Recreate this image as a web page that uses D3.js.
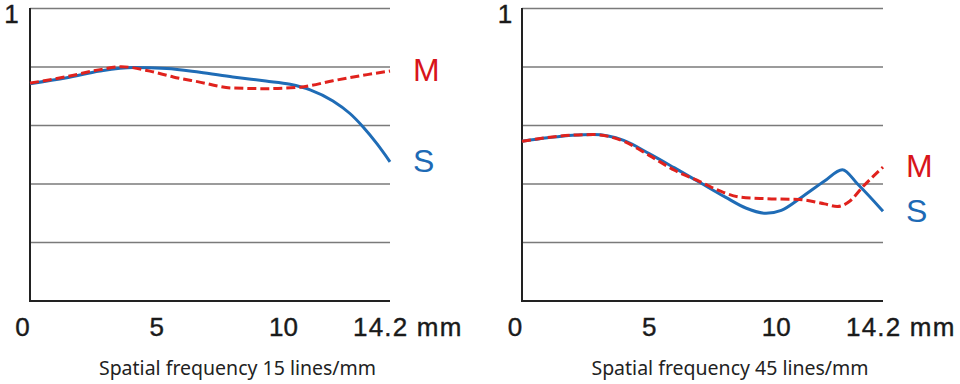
<!DOCTYPE html>
<html><head><meta charset="utf-8">
<script src="https://cdn.jsdelivr.net/npm/d3@7"></script>
<style>
html,body{margin:0;padding:0;background:#fff;}
svg{display:block;}
</style></head>
<body>
<svg id="chart" width="960" height="384"></svg>
<script>
// ---- data ----
const xTicks = [0, 5, 10, 14.2];
const xTickLabels = ["0", "5", "10", "14.2 mm"];
const yGrid = [0.2, 0.4, 0.6, 0.8, 1.0];
const yTickLabel = "1";
const seriesNames = ["M", "S"];
const subtitles = ["Spatial frequency 15 lines/mm", "Spatial frequency 45 lines/mm"];

// 15 lines/mm
const left_S_x = [0, 1.45, 2.76, 4.07, 5.39, 6.7, 8.0, 9.3, 10.26, 11.05, 11.95, 12.62, 13.14, 13.69, 14.2];
const left_S_y = [0.743, 0.763, 0.786, 0.798, 0.795, 0.782, 0.766, 0.752, 0.741, 0.722, 0.684, 0.641, 0.595, 0.537, 0.476];
const left_M_x = [0, 1.45, 2.76, 3.6, 4.73, 5.65, 6.6, 8.0, 9.3, 10.65, 11.95, 13.3, 14.2];
const left_M_y = [0.745, 0.767, 0.791, 0.801, 0.786, 0.766, 0.750, 0.728, 0.726, 0.731, 0.753, 0.774, 0.786];

// 45 lines/mm
const right_S_x = [0, 1.0, 2.0, 2.8, 4.0, 5.0, 6.0, 7.0, 8.0, 8.8, 9.6, 10.2, 11.0, 11.9, 12.6, 13.2, 14.2];
const right_S_y = [0.546, 0.558, 0.567, 0.569, 0.549, 0.504, 0.455, 0.405, 0.355, 0.318, 0.300, 0.310, 0.355, 0.410, 0.449, 0.400, 0.307];
const right_M_x = [0, 2.0, 2.8, 4.0, 5.0, 6.0, 7.0, 7.9, 8.6, 9.6, 10.9, 11.9, 12.4, 12.9, 13.4, 14.2];
const right_M_y = [0.546, 0.567, 0.569, 0.546, 0.498, 0.447, 0.408, 0.372, 0.355, 0.350, 0.347, 0.332, 0.323, 0.342, 0.390, 0.458];

const zip = (xs, ys) => xs.map((x, i) => ({x, y: ys[i]}));

const panels = [
  {x0: 30, x1: 390, S: zip(left_S_x, left_S_y), M: zip(left_M_x, left_M_y), sub: subtitles[0], subX: 237.5,
   mLabelY: 81, sLabelY: 172, zeroX: 22.5, oneX: 11.5},
  {x0: 522, x1: 883, S: zip(right_S_x, right_S_y), M: zip(right_M_x, right_M_y), sub: subtitles[1], subX: 730,
   mLabelY: 177, sLabelY: 222, zeroX: 515, oneX: 505}
];

const svg = d3.select("#chart");
const yTop = 8.5, yBot = 301;
const y = d3.scaleLinear().domain([0, 1]).range([yBot, yTop]);
const BLUE = "#1f6cb6", RED = "#e0221d";
const numFont = "'Liberation Sans', Arial, Helvetica, sans-serif";

panels.forEach(p => {
  const x = d3.scaleLinear().domain([0, 14.2]).range([p.x0, p.x1]);
  const g = svg.append("g");

  // grid
  g.selectAll("line.grid").data(yGrid).join("line")
    .attr("x1", p.x0).attr("x2", p.x1)
    .attr("y1", d => y(d)).attr("y2", d => y(d))
    .attr("stroke", "#7a7a7a").attr("stroke-width", 1.5);

  // axes
  g.append("line").attr("x1", p.x0).attr("x2", p.x0).attr("y1", y(1) - 0.5).attr("y2", y(0) + 1)
    .attr("stroke", "#222").attr("stroke-width", 2);
  g.append("line").attr("x1", p.x0 - 1).attr("x2", p.x1).attr("y1", y(0)).attr("y2", y(0))
    .attr("stroke", "#222").attr("stroke-width", 2);

  // x tick labels
  xTicks.forEach((t, i) => {
    let tx = x(t), anchor = "middle";
    if (i === 0) tx = p.zeroX;
    if (i === xTicks.length - 1) { tx = x(t) - 37; anchor = "start"; }
    g.append("text").attr("x", tx).attr("y", 336).attr("text-anchor", anchor)
      .attr("font-family", numFont).attr("font-size", 26).attr("letter-spacing", i === xTicks.length - 1 ? 1.2 : 0)
      .attr("fill", "#1a1a1a").attr("stroke", "#1a1a1a").attr("stroke-width", 0.4).text(xTickLabels[i]);
  });
  // y label "1"
  g.append("text").attr("x", p.oneX).attr("y", 22.5).attr("text-anchor", "middle")
    .attr("font-family", numFont).attr("font-size", 26).attr("fill", "#1a1a1a")
    .attr("stroke", "#1a1a1a").attr("stroke-width", 0.4).text(yTickLabel);

  const line = d3.line().x(d => x(d.x)).y(d => y(d.y)).curve(d3.curveMonotoneX);

  g.append("path").datum(p.S).attr("d", line).attr("fill", "none")
    .attr("stroke", BLUE).attr("stroke-width", 3).attr("stroke-linejoin", "round");
  g.append("path").datum(p.M).attr("d", line).attr("fill", "none")
    .attr("stroke", RED).attr("stroke-width", 3).attr("stroke-dasharray", "9 4");

  // series labels
  g.append("text").attr("x", p.x1 + 23).attr("y", p.mLabelY)
    .attr("font-family", numFont).attr("font-size", 32).attr("fill", "#d8151b").text(seriesNames[0]);
  g.append("text").attr("x", p.x1 + 23).attr("y", p.sLabelY)
    .attr("font-family", numFont).attr("font-size", 32).attr("fill", "#1d6ab5").text(seriesNames[1]);

  // subtitle
  g.append("text").attr("x", p.subX).attr("y", 375).attr("text-anchor", "middle")
    .attr("font-family", "'Noto Sans', 'Open Sans', sans-serif").attr("font-size", 19.5)
    .attr("fill", "#222").text(p.sub);
});
</script>
</body></html>
